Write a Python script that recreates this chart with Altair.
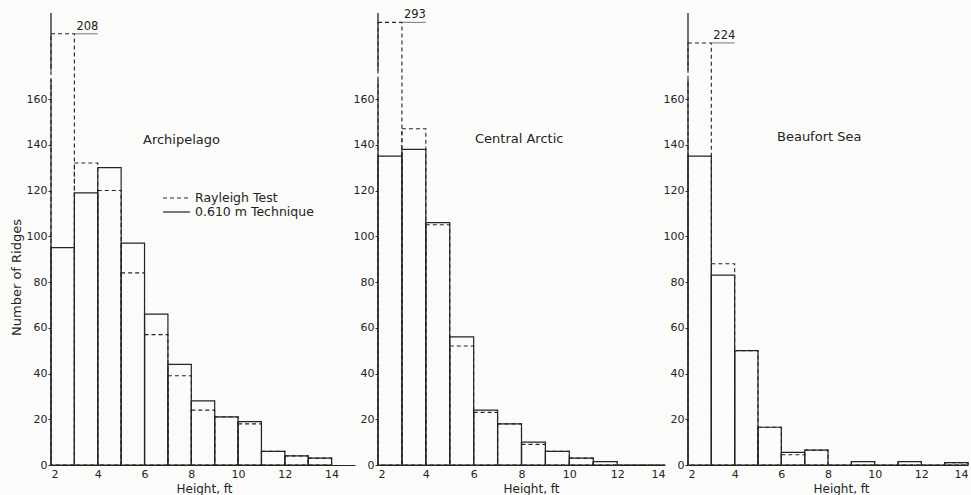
import altair as alt
import pandas as pd

# ---------------- data ----------------
bin_start = [2, 3, 4, 5, 6, 7, 8, 9, 10, 11, 12, 13]          # ft, bins are 1 ft wide
archipelago_solid = [95, 119, 130, 97, 66, 44, 28, 21, 19, 6, 4, 3]
archipelago_dashed = [208, 132, 120, 84, 57, 39, 24, 21, 18, 6, 4, 3]
central_solid = [135, 138, 106, 56, 24, 18, 10, 6, 3, 1.5, 0, 0]
central_dashed = [293, 147, 105, 52, 23, 18, 9, 6, 3, 1.5, 0, 0]
beaufort_solid = [135, 83, 50, 16.5, 5.5, 6.5, 0, 1.5, 0, 1.5, 0, 1]
beaufort_dashed = [224, 88, 50, 16.5, 4.5, 6.5, 0, 1.5, 0, 1.5, 0, 1]

panel_names = ["Archipelago", "Central Arctic", "Beaufort Sea"]
solid_series = [archipelago_solid, central_solid, beaufort_solid]
dashed_series = [archipelago_dashed, central_dashed, beaufort_dashed]
# heights at which the off-scale bars are drawn above the axis break
offscale_drawn = [188.5, 193.5, 184.5]
axis_break = [168.5, 172.5]
y_top = 197.6
x_max = [15, 14, 14]
panel_widths = [304, 287, 280]
panel_height = 452
y_ticks = [0, 20, 40, 60, 80, 100, 120, 140, 160]
x_ticks = [2, 4, 6, 8, 10, 12, 14]
legend_labels = ["Rayleigh Test", "0.610 m Technique"]

INK = "#242424"
FONT = "DejaVu Sans"


def panel(i):
    name = panel_names[i]
    df = pd.DataFrame({
        "start": bin_start,
        "end": [b + 1 for b in bin_start],
        "solid": solid_series[i],
        "dashed": dashed_series[i],
    })
    df["base"] = 0
    df["dashed_drawn"] = [min(v, offscale_drawn[i]) for v in df["dashed"]]

    xs = alt.Scale(domain=[2, x_max[i]], nice=False, zero=False)
    ys = alt.Scale(domain=[0, y_top], nice=False)

    y_axis = alt.Axis(values=y_ticks, domain=False, grid=False, tickSize=3,
                      tickColor=INK, labelPadding=1, labelFontSize=11,
                      labelColor=INK, labelFont=FONT,
                      title="Number of Ridges" if i == 0 else "",
                      titleFontSize=13, titleFont=FONT, titleColor=INK,
                      titleFontWeight="normal", titleY=264, titlePadding=3)
    x_axis = alt.Axis(values=x_ticks, ticks=False, grid=False, domain=True,
                      domainColor=INK, domainWidth=1.2, labelPadding=3,
                      labelFontSize=11, labelColor=INK, labelFont=FONT,
                      labelFlush=True, title="Height, ft", titleFontSize=12,
                      titleFont=FONT, titleColor=INK, titleFontWeight="normal",
                      titlePadding=4, titleX=153)

    def X(f):
        return alt.X(f, scale=xs, axis=x_axis)

    def Y(f):
        return alt.Y(f, scale=ys, axis=y_axis)

    dashed = alt.Chart(df).mark_rect(fillOpacity=0, stroke=INK, strokeWidth=1.1,
                                     strokeDash=[4, 3]).encode(
        x=X("start:Q"), x2="end:Q", y=Y("dashed_drawn:Q"), y2="base:Q")
    solid = alt.Chart(df).mark_rect(fillOpacity=0, stroke=INK, strokeWidth=1.2).encode(
        x=X("start:Q"), x2="end:Q", y=Y("solid:Q"), y2="base:Q")

    top = df[df["dashed"] > offscale_drawn[i]].copy()
    top["next"] = top["end"] + 1
    top["label"] = top["dashed"].astype(int).astype(str)
    label = alt.Chart(top).mark_text(align="left", baseline="bottom", dx=2, dy=-2,
                                     fontSize=11.5, font=FONT, color=INK).encode(
        x=X("end:Q"), y=Y("dashed_drawn:Q"), text="label:N")
    underline = alt.Chart(top).mark_rule(stroke="#777", strokeWidth=1).encode(
        x=X("end:Q"), x2="next:Q", y=Y("dashed_drawn:Q"))

    seg = pd.DataFrame({"y0": [0, axis_break[1]], "y1": [axis_break[0], y_top]})
    axis_line = alt.Chart(seg).mark_rule(stroke=INK, strokeWidth=1.3).encode(
        x=alt.value(0), y=Y("y0:Q"), y2="y1:Q")

    title_pos = [(92, 127), (97, 126), (89, 124)][i]
    title = alt.Chart(pd.DataFrame({"name": [name]})).mark_text(
        align="left", baseline="middle", fontSize=13, font=FONT, color=INK).encode(
        x=alt.value(title_pos[0]), y=alt.value(title_pos[1]), text="name:N")

    layers = [dashed, solid, underline, label, axis_line, title]

    if i == 0:
        leg = pd.DataFrame({"label": legend_labels})
        leg_d = alt.Chart(leg.iloc[[0]]).mark_rule(stroke=INK, strokeWidth=1.2,
                                                  strokeDash=[4, 3]).encode(
            x=alt.value(112), x2=alt.value(139), y=alt.value(185))
        leg_s = alt.Chart(leg.iloc[[1]]).mark_rule(stroke=INK, strokeWidth=1.2).encode(
            x=alt.value(112), x2=alt.value(139), y=alt.value(199))
        leg_t1 = alt.Chart(leg.iloc[[0]]).mark_text(
            align="left", baseline="middle", fontSize=12.5, font=FONT, color=INK).encode(
            x=alt.value(144), y=alt.value(185), text="label:N")
        leg_t2 = alt.Chart(leg.iloc[[1]]).mark_text(
            align="left", baseline="middle", fontSize=12.5, font=FONT, color=INK).encode(
            x=alt.value(144), y=alt.value(199), text="label:N")
        layers += [leg_d, leg_s, leg_t1, leg_t2]

    return alt.layer(*layers).properties(width=panel_widths[i], height=panel_height)


chart = alt.hconcat(panel(0), panel(1), panel(2), spacing=23, bounds="flush").properties(
    padding={"left": 10, "top": 9, "right": 2, "bottom": 2},
    background="#fbfbf9",
).configure_view(stroke=None)

chart.save("out.html", embed_options={"renderer": "svg", "actions": False})
